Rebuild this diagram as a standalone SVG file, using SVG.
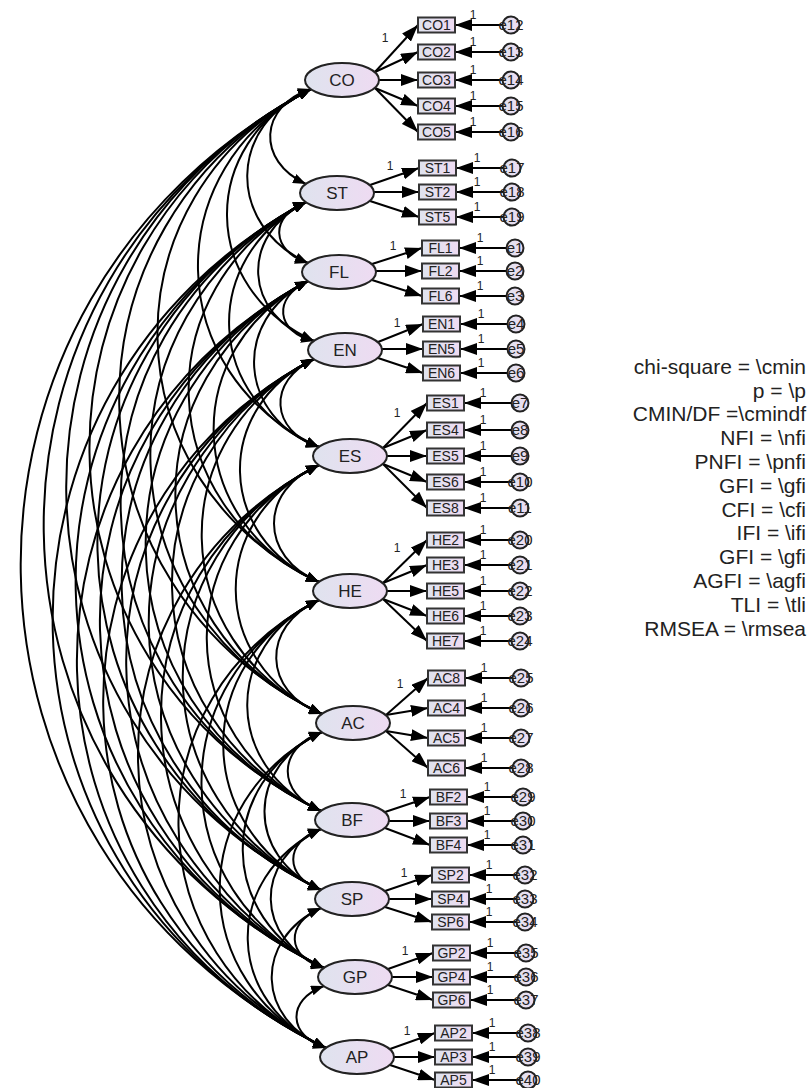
<svg xmlns="http://www.w3.org/2000/svg" width="811" height="1088" viewBox="0 0 811 1088">
<style>
.lat{fill:url(#gl);stroke:#222;stroke-width:2}
.obs{fill:url(#gl);stroke:#333;stroke-width:2}
.err{fill:url(#gl);stroke:#222;stroke-width:2}
.cv{fill:none;stroke:#000;stroke-width:2;marker-start:url(#ac);marker-end:url(#ac)}
.ld{stroke:#000;stroke-width:2;marker-end:url(#al)}
.t{font-family:"Liberation Sans",Arial,sans-serif;fill:#222}
.lt{font-size:17px;text-anchor:middle}
.ot{font-size:14px;text-anchor:middle}
.et{font-size:15px;text-anchor:middle}
.one{font-size:12px;text-anchor:middle}
.st{font-size:21px;text-anchor:end}
</style>
<defs>
<linearGradient id="gl" x1="0" y1="0" x2="1" y2="0">
<stop offset="0" stop-color="#dfe3ee"/>
<stop offset="1" stop-color="#eedbf2"/>
</linearGradient>
<marker id="ac" markerUnits="userSpaceOnUse" markerWidth="14" markerHeight="10" refX="13" refY="5" orient="auto-start-reverse"><path d="M0,0 L13,5 L0,10 z" fill="#000"/></marker>
<marker id="al" markerUnits="userSpaceOnUse" markerWidth="18" markerHeight="12" refX="17" refY="6" orient="auto"><path d="M0,0 L17,6 L0,12 z" fill="#000"/></marker>
</defs>
<g id="connectors">
<path class="cv" d="M311,89 C259,106 256,161 306,184"/>
<path class="cv" d="M311,89 C227,125 226,225 308,263"/>
<path class="cv" d="M311,89 C198,144 199,288 314,341"/>
<path class="cv" d="M311,89 C157,168 161,374 319,447"/>
<path class="cv" d="M311,89 C103,197 107,480 319,582"/>
<path class="cv" d="M311,89 C50,227 57,586 322,714"/>
<path class="cv" d="M311,89 C11,246 17,662 321,811"/>
<path class="cv" d="M311,89 C-20,263 -14,724 321,890"/>
<path class="cv" d="M311,89 C-51,281 -44,786 324,968"/>
<path class="cv" d="M311,89 C-83,299 -74,850 326,1048"/>
<path class="cv" d="M306,202 C269,216 271,251 308,263"/>
<path class="cv" d="M306,202 C239,236 243,315 314,341"/>
<path class="cv" d="M306,202 C198,260 205,401 319,447"/>
<path class="cv" d="M306,202 C144,289 151,507 319,582"/>
<path class="cv" d="M306,202 C91,318 101,612 322,714"/>
<path class="cv" d="M306,202 C52,337 61,688 321,811"/>
<path class="cv" d="M306,202 C21,354 30,750 321,890"/>
<path class="cv" d="M306,202 C-9,373 1,813 324,968"/>
<path class="cv" d="M306,202 C-41,390 -29,876 326,1048"/>
<path class="cv" d="M308,281 C272,298 276,332 314,341"/>
<path class="cv" d="M308,281 C231,321 238,417 319,447"/>
<path class="cv" d="M308,281 C177,350 184,523 319,582"/>
<path class="cv" d="M308,281 C125,379 133,628 322,714"/>
<path class="cv" d="M308,281 C86,400 93,704 321,811"/>
<path class="cv" d="M308,281 C54,416 61,767 321,890"/>
<path class="cv" d="M308,281 C23,434 33,829 324,968"/>
<path class="cv" d="M308,281 C-8,452 2,893 326,1048"/>
<path class="cv" d="M314,359 C267,381 270,431 319,447"/>
<path class="cv" d="M314,359 C213,408 216,537 319,582"/>
<path class="cv" d="M314,359 C161,437 165,642 322,714"/>
<path class="cv" d="M314,359 C121,458 126,718 321,811"/>
<path class="cv" d="M314,359 C90,475 95,780 321,890"/>
<path class="cv" d="M314,359 C59,492 65,843 324,968"/>
<path class="cv" d="M314,359 C28,510 34,907 326,1048"/>
<path class="cv" d="M319,465 C259,490 259,557 319,582"/>
<path class="cv" d="M319,465 C207,519 208,662 322,714"/>
<path class="cv" d="M319,465 C168,540 170,738 321,811"/>
<path class="cv" d="M319,465 C136,556 138,801 321,890"/>
<path class="cv" d="M319,465 C106,574 109,863 324,968"/>
<path class="cv" d="M319,465 C74,592 79,927 326,1048"/>
<path class="cv" d="M319,600 C261,626 262,692 322,714"/>
<path class="cv" d="M319,600 C222,646 224,767 321,811"/>
<path class="cv" d="M319,600 C190,663 192,829 321,890"/>
<path class="cv" d="M319,600 C160,680 163,892 324,968"/>
<path class="cv" d="M319,600 C128,698 133,956 326,1048"/>
<path class="cv" d="M322,732 C277,748 276,793 321,811"/>
<path class="cv" d="M322,732 C246,766 245,856 321,890"/>
<path class="cv" d="M322,732 C215,783 217,919 324,968"/>
<path class="cv" d="M322,732 C184,801 186,983 326,1048"/>
<path class="cv" d="M321,829 C284,842 284,877 321,890"/>
<path class="cv" d="M321,829 C253,860 254,939 324,968"/>
<path class="cv" d="M321,829 C221,878 224,1003 326,1048"/>
<path class="cv" d="M321,908 C285,923 286,957 324,968"/>
<path class="cv" d="M321,908 C253,940 256,1020 326,1048"/>
<path class="cv" d="M324,986 C286,1000 288,1036 326,1048"/>
<line class="ld" x1="375" y1="72" x2="418" y2="25"/>
<line class="ld" x1="375" y1="72" x2="418" y2="52"/>
<line class="ld" x1="379" y1="80" x2="418" y2="80"/>
<line class="ld" x1="375" y1="88" x2="418" y2="106"/>
<line class="ld" x1="375" y1="88" x2="418" y2="132"/>
<line class="ld" x1="370" y1="185" x2="419" y2="168"/>
<line class="ld" x1="374" y1="192" x2="419" y2="192"/>
<line class="ld" x1="370" y1="201" x2="419" y2="217"/>
<line class="ld" x1="372" y1="264" x2="422" y2="248"/>
<line class="ld" x1="376" y1="271" x2="422" y2="271"/>
<line class="ld" x1="372" y1="280" x2="422" y2="296"/>
<line class="ld" x1="378" y1="342" x2="423" y2="324"/>
<line class="ld" x1="382" y1="349" x2="423" y2="349"/>
<line class="ld" x1="378" y1="358" x2="423" y2="373"/>
<line class="ld" x1="383" y1="448" x2="427" y2="403"/>
<line class="ld" x1="383" y1="448" x2="427" y2="430"/>
<line class="ld" x1="387" y1="456" x2="427" y2="456"/>
<line class="ld" x1="383" y1="464" x2="427" y2="482"/>
<line class="ld" x1="383" y1="464" x2="427" y2="508"/>
<line class="ld" x1="383" y1="583" x2="427" y2="540"/>
<line class="ld" x1="383" y1="583" x2="427" y2="565"/>
<line class="ld" x1="387" y1="591" x2="427" y2="591"/>
<line class="ld" x1="383" y1="599" x2="427" y2="616"/>
<line class="ld" x1="383" y1="599" x2="427" y2="641"/>
<line class="ld" x1="386" y1="715" x2="428" y2="678"/>
<line class="ld" x1="386" y1="715" x2="428" y2="708"/>
<line class="ld" x1="386" y1="731" x2="428" y2="738"/>
<line class="ld" x1="386" y1="731" x2="428" y2="768"/>
<line class="ld" x1="385" y1="812" x2="430" y2="797"/>
<line class="ld" x1="389" y1="821" x2="430" y2="821"/>
<line class="ld" x1="385" y1="828" x2="430" y2="845"/>
<line class="ld" x1="385" y1="891" x2="432" y2="875"/>
<line class="ld" x1="389" y1="899" x2="432" y2="899"/>
<line class="ld" x1="385" y1="907" x2="432" y2="922"/>
<line class="ld" x1="388" y1="969" x2="433" y2="953"/>
<line class="ld" x1="392" y1="977" x2="433" y2="977"/>
<line class="ld" x1="388" y1="985" x2="433" y2="1000"/>
<line class="ld" x1="390" y1="1049" x2="435" y2="1033"/>
<line class="ld" x1="394" y1="1057" x2="435" y2="1057"/>
<line class="ld" x1="390" y1="1065" x2="435" y2="1080"/>
<line class="ld" x1="503" y1="25" x2="455" y2="25"/>
<line class="ld" x1="503" y1="52" x2="455" y2="52"/>
<line class="ld" x1="503" y1="80" x2="455" y2="80"/>
<line class="ld" x1="503" y1="106" x2="455" y2="106"/>
<line class="ld" x1="503" y1="132" x2="455" y2="132"/>
<line class="ld" x1="504" y1="168" x2="456" y2="168"/>
<line class="ld" x1="504" y1="192" x2="456" y2="192"/>
<line class="ld" x1="504" y1="217" x2="456" y2="217"/>
<line class="ld" x1="507" y1="248" x2="459" y2="248"/>
<line class="ld" x1="507" y1="271" x2="459" y2="271"/>
<line class="ld" x1="507" y1="296" x2="459" y2="296"/>
<line class="ld" x1="508" y1="324" x2="460" y2="324"/>
<line class="ld" x1="508" y1="349" x2="460" y2="349"/>
<line class="ld" x1="508" y1="373" x2="460" y2="373"/>
<line class="ld" x1="512" y1="403" x2="464" y2="403"/>
<line class="ld" x1="512" y1="430" x2="464" y2="430"/>
<line class="ld" x1="512" y1="456" x2="464" y2="456"/>
<line class="ld" x1="512" y1="482" x2="464" y2="482"/>
<line class="ld" x1="512" y1="508" x2="464" y2="508"/>
<line class="ld" x1="512" y1="540" x2="464" y2="540"/>
<line class="ld" x1="512" y1="565" x2="464" y2="565"/>
<line class="ld" x1="512" y1="591" x2="464" y2="591"/>
<line class="ld" x1="512" y1="616" x2="464" y2="616"/>
<line class="ld" x1="512" y1="641" x2="464" y2="641"/>
<line class="ld" x1="513" y1="678" x2="465" y2="678"/>
<line class="ld" x1="513" y1="708" x2="465" y2="708"/>
<line class="ld" x1="513" y1="738" x2="465" y2="738"/>
<line class="ld" x1="513" y1="768" x2="465" y2="768"/>
<line class="ld" x1="515" y1="797" x2="467" y2="797"/>
<line class="ld" x1="515" y1="821" x2="467" y2="821"/>
<line class="ld" x1="515" y1="845" x2="467" y2="845"/>
<line class="ld" x1="517" y1="875" x2="469" y2="875"/>
<line class="ld" x1="517" y1="899" x2="469" y2="899"/>
<line class="ld" x1="517" y1="922" x2="469" y2="922"/>
<line class="ld" x1="518" y1="953" x2="470" y2="953"/>
<line class="ld" x1="518" y1="977" x2="470" y2="977"/>
<line class="ld" x1="518" y1="1000" x2="470" y2="1000"/>
<line class="ld" x1="520" y1="1033" x2="472" y2="1033"/>
<line class="ld" x1="520" y1="1057" x2="472" y2="1057"/>
<line class="ld" x1="520" y1="1080" x2="472" y2="1080"/>
</g>
<g id="weights" class="t one">
<text x="385" y="42">1</text><text x="390" y="170">1</text><text x="393" y="250">1</text><text x="397" y="327">1</text>
<text x="397" y="417">1</text><text x="397" y="552">1</text><text x="400" y="688">1</text><text x="403" y="798">1</text>
<text x="404" y="877">1</text><text x="405" y="955">1</text><text x="407" y="1035">1</text>
<text x="473" y="19">1</text><text x="473" y="46">1</text><text x="473" y="74">1</text><text x="473" y="100">1</text><text x="473" y="126">1</text>
<text x="477" y="162">1</text><text x="477" y="186">1</text><text x="477" y="211">1</text>
<text x="480" y="242">1</text><text x="480" y="265">1</text><text x="480" y="290">1</text>
<text x="481" y="318">1</text><text x="481" y="343">1</text><text x="481" y="367">1</text>
<text x="483" y="397">1</text><text x="483" y="424">1</text><text x="483" y="450">1</text><text x="483" y="476">1</text><text x="483" y="502">1</text>
<text x="483" y="534">1</text><text x="483" y="559">1</text><text x="483" y="585">1</text><text x="483" y="610">1</text><text x="483" y="635">1</text>
<text x="484" y="672">1</text><text x="484" y="702">1</text><text x="484" y="732">1</text><text x="484" y="762">1</text>
<text x="487" y="791">1</text><text x="487" y="815">1</text><text x="487" y="839">1</text>
<text x="489" y="869">1</text><text x="489" y="893">1</text><text x="489" y="916">1</text>
<text x="490" y="947">1</text><text x="490" y="971">1</text><text x="490" y="994">1</text>
<text x="492" y="1027">1</text><text x="492" y="1051">1</text><text x="492" y="1074">1</text>
</g>
<g id="CO"><ellipse class="lat" cx="342" cy="80" rx="37" ry="17"/><text class="t lt" x="342" y="86">CO</text></g>
<g id="ST"><ellipse class="lat" cx="337" cy="193" rx="37" ry="17"/><text class="t lt" x="337" y="199">ST</text></g>
<g id="FL"><ellipse class="lat" cx="339" cy="272" rx="37" ry="17"/><text class="t lt" x="339" y="278">FL</text></g>
<g id="EN"><ellipse class="lat" cx="345" cy="350" rx="37" ry="17"/><text class="t lt" x="345" y="356">EN</text></g>
<g id="ES"><ellipse class="lat" cx="350" cy="456" rx="37" ry="17"/><text class="t lt" x="350" y="462">ES</text></g>
<g id="HE"><ellipse class="lat" cx="350" cy="591" rx="37" ry="17"/><text class="t lt" x="350" y="597">HE</text></g>
<g id="AC"><ellipse class="lat" cx="353" cy="723" rx="37" ry="17"/><text class="t lt" x="353" y="729">AC</text></g>
<g id="BF"><ellipse class="lat" cx="352" cy="820" rx="37" ry="17"/><text class="t lt" x="352" y="826">BF</text></g>
<g id="SP"><ellipse class="lat" cx="352" cy="899" rx="37" ry="17"/><text class="t lt" x="352" y="905">SP</text></g>
<g id="GP"><ellipse class="lat" cx="355" cy="977" rx="37" ry="17"/><text class="t lt" x="355" y="983">GP</text></g>
<g id="AP"><ellipse class="lat" cx="357" cy="1057" rx="37" ry="17"/><text class="t lt" x="357" y="1063">AP</text></g>
<g id="CO1"><rect class="obs" x="418" y="17.5" width="37" height="15"/><text class="t ot" x="436.5" y="30">CO1</text></g>
<g id="CO2"><rect class="obs" x="418" y="44.5" width="37" height="15"/><text class="t ot" x="436.5" y="57">CO2</text></g>
<g id="CO3"><rect class="obs" x="418" y="72.5" width="37" height="15"/><text class="t ot" x="436.5" y="85">CO3</text></g>
<g id="CO4"><rect class="obs" x="418" y="98.5" width="37" height="15"/><text class="t ot" x="436.5" y="111">CO4</text></g>
<g id="CO5"><rect class="obs" x="418" y="124.5" width="37" height="15"/><text class="t ot" x="436.5" y="137">CO5</text></g>
<g id="ST1"><rect class="obs" x="419" y="160.5" width="37" height="15"/><text class="t ot" x="437.5" y="173">ST1</text></g>
<g id="ST2"><rect class="obs" x="419" y="184.5" width="37" height="15"/><text class="t ot" x="437.5" y="197">ST2</text></g>
<g id="ST5"><rect class="obs" x="419" y="209.5" width="37" height="15"/><text class="t ot" x="437.5" y="222">ST5</text></g>
<g id="FL1"><rect class="obs" x="422" y="240.5" width="37" height="15"/><text class="t ot" x="440.5" y="253">FL1</text></g>
<g id="FL2"><rect class="obs" x="422" y="263.5" width="37" height="15"/><text class="t ot" x="440.5" y="276">FL2</text></g>
<g id="FL6"><rect class="obs" x="422" y="288.5" width="37" height="15"/><text class="t ot" x="440.5" y="301">FL6</text></g>
<g id="EN1"><rect class="obs" x="423" y="316.5" width="37" height="15"/><text class="t ot" x="441.5" y="329">EN1</text></g>
<g id="EN5"><rect class="obs" x="423" y="341.5" width="37" height="15"/><text class="t ot" x="441.5" y="354">EN5</text></g>
<g id="EN6"><rect class="obs" x="423" y="365.5" width="37" height="15"/><text class="t ot" x="441.5" y="378">EN6</text></g>
<g id="ES1"><rect class="obs" x="427" y="395.5" width="37" height="15"/><text class="t ot" x="445.5" y="408">ES1</text></g>
<g id="ES4"><rect class="obs" x="427" y="422.5" width="37" height="15"/><text class="t ot" x="445.5" y="435">ES4</text></g>
<g id="ES5"><rect class="obs" x="427" y="448.5" width="37" height="15"/><text class="t ot" x="445.5" y="461">ES5</text></g>
<g id="ES6"><rect class="obs" x="427" y="474.5" width="37" height="15"/><text class="t ot" x="445.5" y="487">ES6</text></g>
<g id="ES8"><rect class="obs" x="427" y="500.5" width="37" height="15"/><text class="t ot" x="445.5" y="513">ES8</text></g>
<g id="HE2"><rect class="obs" x="427" y="532.5" width="37" height="15"/><text class="t ot" x="445.5" y="545">HE2</text></g>
<g id="HE3"><rect class="obs" x="427" y="557.5" width="37" height="15"/><text class="t ot" x="445.5" y="570">HE3</text></g>
<g id="HE5"><rect class="obs" x="427" y="583.5" width="37" height="15"/><text class="t ot" x="445.5" y="596">HE5</text></g>
<g id="HE6"><rect class="obs" x="427" y="608.5" width="37" height="15"/><text class="t ot" x="445.5" y="621">HE6</text></g>
<g id="HE7"><rect class="obs" x="427" y="633.5" width="37" height="15"/><text class="t ot" x="445.5" y="646">HE7</text></g>
<g id="AC8"><rect class="obs" x="428" y="670.5" width="37" height="15"/><text class="t ot" x="446.5" y="683">AC8</text></g>
<g id="AC4"><rect class="obs" x="428" y="700.5" width="37" height="15"/><text class="t ot" x="446.5" y="713">AC4</text></g>
<g id="AC5"><rect class="obs" x="428" y="730.5" width="37" height="15"/><text class="t ot" x="446.5" y="743">AC5</text></g>
<g id="AC6"><rect class="obs" x="428" y="760.5" width="37" height="15"/><text class="t ot" x="446.5" y="773">AC6</text></g>
<g id="BF2"><rect class="obs" x="430" y="789.5" width="37" height="15"/><text class="t ot" x="448.5" y="802">BF2</text></g>
<g id="BF3"><rect class="obs" x="430" y="813.5" width="37" height="15"/><text class="t ot" x="448.5" y="826">BF3</text></g>
<g id="BF4"><rect class="obs" x="430" y="837.5" width="37" height="15"/><text class="t ot" x="448.5" y="850">BF4</text></g>
<g id="SP2"><rect class="obs" x="432" y="867.5" width="37" height="15"/><text class="t ot" x="450.5" y="880">SP2</text></g>
<g id="SP4"><rect class="obs" x="432" y="891.5" width="37" height="15"/><text class="t ot" x="450.5" y="904">SP4</text></g>
<g id="SP6"><rect class="obs" x="432" y="914.5" width="37" height="15"/><text class="t ot" x="450.5" y="927">SP6</text></g>
<g id="GP2"><rect class="obs" x="433" y="945.5" width="37" height="15"/><text class="t ot" x="451.5" y="958">GP2</text></g>
<g id="GP4"><rect class="obs" x="433" y="969.5" width="37" height="15"/><text class="t ot" x="451.5" y="982">GP4</text></g>
<g id="GP6"><rect class="obs" x="433" y="992.5" width="37" height="15"/><text class="t ot" x="451.5" y="1005">GP6</text></g>
<g id="AP2"><rect class="obs" x="435" y="1025.5" width="37" height="15"/><text class="t ot" x="453.5" y="1038">AP2</text></g>
<g id="AP3"><rect class="obs" x="435" y="1049.5" width="37" height="15"/><text class="t ot" x="453.5" y="1062">AP3</text></g>
<g id="AP5"><rect class="obs" x="435" y="1072.5" width="37" height="15"/><text class="t ot" x="453.5" y="1085">AP5</text></g>
<g id="e12"><circle class="err" cx="511" cy="25" r="8.5"/><text class="t et" x="511" y="30">e12</text></g>
<g id="e13"><circle class="err" cx="511" cy="52" r="8.5"/><text class="t et" x="511" y="57">e13</text></g>
<g id="e14"><circle class="err" cx="511" cy="80" r="8.5"/><text class="t et" x="511" y="85">e14</text></g>
<g id="e15"><circle class="err" cx="511" cy="106" r="8.5"/><text class="t et" x="511" y="111">e15</text></g>
<g id="e16"><circle class="err" cx="511" cy="132" r="8.5"/><text class="t et" x="511" y="137">e16</text></g>
<g id="e17"><circle class="err" cx="512" cy="168" r="8.5"/><text class="t et" x="512" y="173">e17</text></g>
<g id="e18"><circle class="err" cx="512" cy="192" r="8.5"/><text class="t et" x="512" y="197">e18</text></g>
<g id="e19"><circle class="err" cx="512" cy="217" r="8.5"/><text class="t et" x="512" y="222">e19</text></g>
<g id="e1"><circle class="err" cx="515" cy="248" r="8.5"/><text class="t et" x="515" y="253">e1</text></g>
<g id="e2"><circle class="err" cx="515" cy="271" r="8.5"/><text class="t et" x="515" y="276">e2</text></g>
<g id="e3"><circle class="err" cx="515" cy="296" r="8.5"/><text class="t et" x="515" y="301">e3</text></g>
<g id="e4"><circle class="err" cx="516" cy="324" r="8.5"/><text class="t et" x="516" y="329">e4</text></g>
<g id="e5"><circle class="err" cx="516" cy="349" r="8.5"/><text class="t et" x="516" y="354">e5</text></g>
<g id="e6"><circle class="err" cx="516" cy="373" r="8.5"/><text class="t et" x="516" y="378">e6</text></g>
<g id="e7"><circle class="err" cx="520" cy="403" r="8.5"/><text class="t et" x="520" y="408">e7</text></g>
<g id="e8"><circle class="err" cx="520" cy="430" r="8.5"/><text class="t et" x="520" y="435">e8</text></g>
<g id="e9"><circle class="err" cx="520" cy="456" r="8.5"/><text class="t et" x="520" y="461">e9</text></g>
<g id="e10"><circle class="err" cx="520" cy="482" r="8.5"/><text class="t et" x="520" y="487">e10</text></g>
<g id="e11"><circle class="err" cx="520" cy="508" r="8.5"/><text class="t et" x="520" y="513">e11</text></g>
<g id="e20"><circle class="err" cx="520" cy="540" r="8.5"/><text class="t et" x="520" y="545">e20</text></g>
<g id="e21"><circle class="err" cx="520" cy="565" r="8.5"/><text class="t et" x="520" y="570">e21</text></g>
<g id="e22"><circle class="err" cx="520" cy="591" r="8.5"/><text class="t et" x="520" y="596">e22</text></g>
<g id="e23"><circle class="err" cx="520" cy="616" r="8.5"/><text class="t et" x="520" y="621">e23</text></g>
<g id="e24"><circle class="err" cx="520" cy="641" r="8.5"/><text class="t et" x="520" y="646">e24</text></g>
<g id="e25"><circle class="err" cx="521" cy="678" r="8.5"/><text class="t et" x="521" y="683">e25</text></g>
<g id="e26"><circle class="err" cx="521" cy="708" r="8.5"/><text class="t et" x="521" y="713">e26</text></g>
<g id="e27"><circle class="err" cx="521" cy="738" r="8.5"/><text class="t et" x="521" y="743">e27</text></g>
<g id="e28"><circle class="err" cx="521" cy="768" r="8.5"/><text class="t et" x="521" y="773">e28</text></g>
<g id="e29"><circle class="err" cx="523" cy="797" r="8.5"/><text class="t et" x="523" y="802">e29</text></g>
<g id="e30"><circle class="err" cx="523" cy="821" r="8.5"/><text class="t et" x="523" y="826">e30</text></g>
<g id="e31"><circle class="err" cx="523" cy="845" r="8.5"/><text class="t et" x="523" y="850">e31</text></g>
<g id="e32"><circle class="err" cx="525" cy="875" r="8.5"/><text class="t et" x="525" y="880">e32</text></g>
<g id="e33"><circle class="err" cx="525" cy="899" r="8.5"/><text class="t et" x="525" y="904">e33</text></g>
<g id="e34"><circle class="err" cx="525" cy="922" r="8.5"/><text class="t et" x="525" y="927">e34</text></g>
<g id="e35"><circle class="err" cx="526" cy="953" r="8.5"/><text class="t et" x="526" y="958">e35</text></g>
<g id="e36"><circle class="err" cx="526" cy="977" r="8.5"/><text class="t et" x="526" y="982">e36</text></g>
<g id="e37"><circle class="err" cx="526" cy="1000" r="8.5"/><text class="t et" x="526" y="1005">e37</text></g>
<g id="e38"><circle class="err" cx="528" cy="1033" r="8.5"/><text class="t et" x="528" y="1038">e38</text></g>
<g id="e39"><circle class="err" cx="528" cy="1057" r="8.5"/><text class="t et" x="528" y="1062">e39</text></g>
<g id="e40"><circle class="err" cx="528" cy="1080" r="8.5"/><text class="t et" x="528" y="1085">e40</text></g>
<g id="fit" class="t st">
<text x="806" y="374">chi-square = \cmin</text>
<text x="806" y="398">p = \p</text>
<text x="806" y="421">CMIN/DF =\cmindf</text>
<text x="806" y="445">NFI = \nfi</text>
<text x="806" y="469">PNFI = \pnfi</text>
<text x="806" y="493">GFI = \gfi</text>
<text x="806" y="517">CFI = \cfi</text>
<text x="806" y="540">IFI = \ifi</text>
<text x="806" y="564">GFI = \gfi</text>
<text x="806" y="588">AGFI = \agfi</text>
<text x="806" y="612">TLI = \tli</text>
<text x="806" y="636">RMSEA = \rmsea</text>
</g>
</svg>
